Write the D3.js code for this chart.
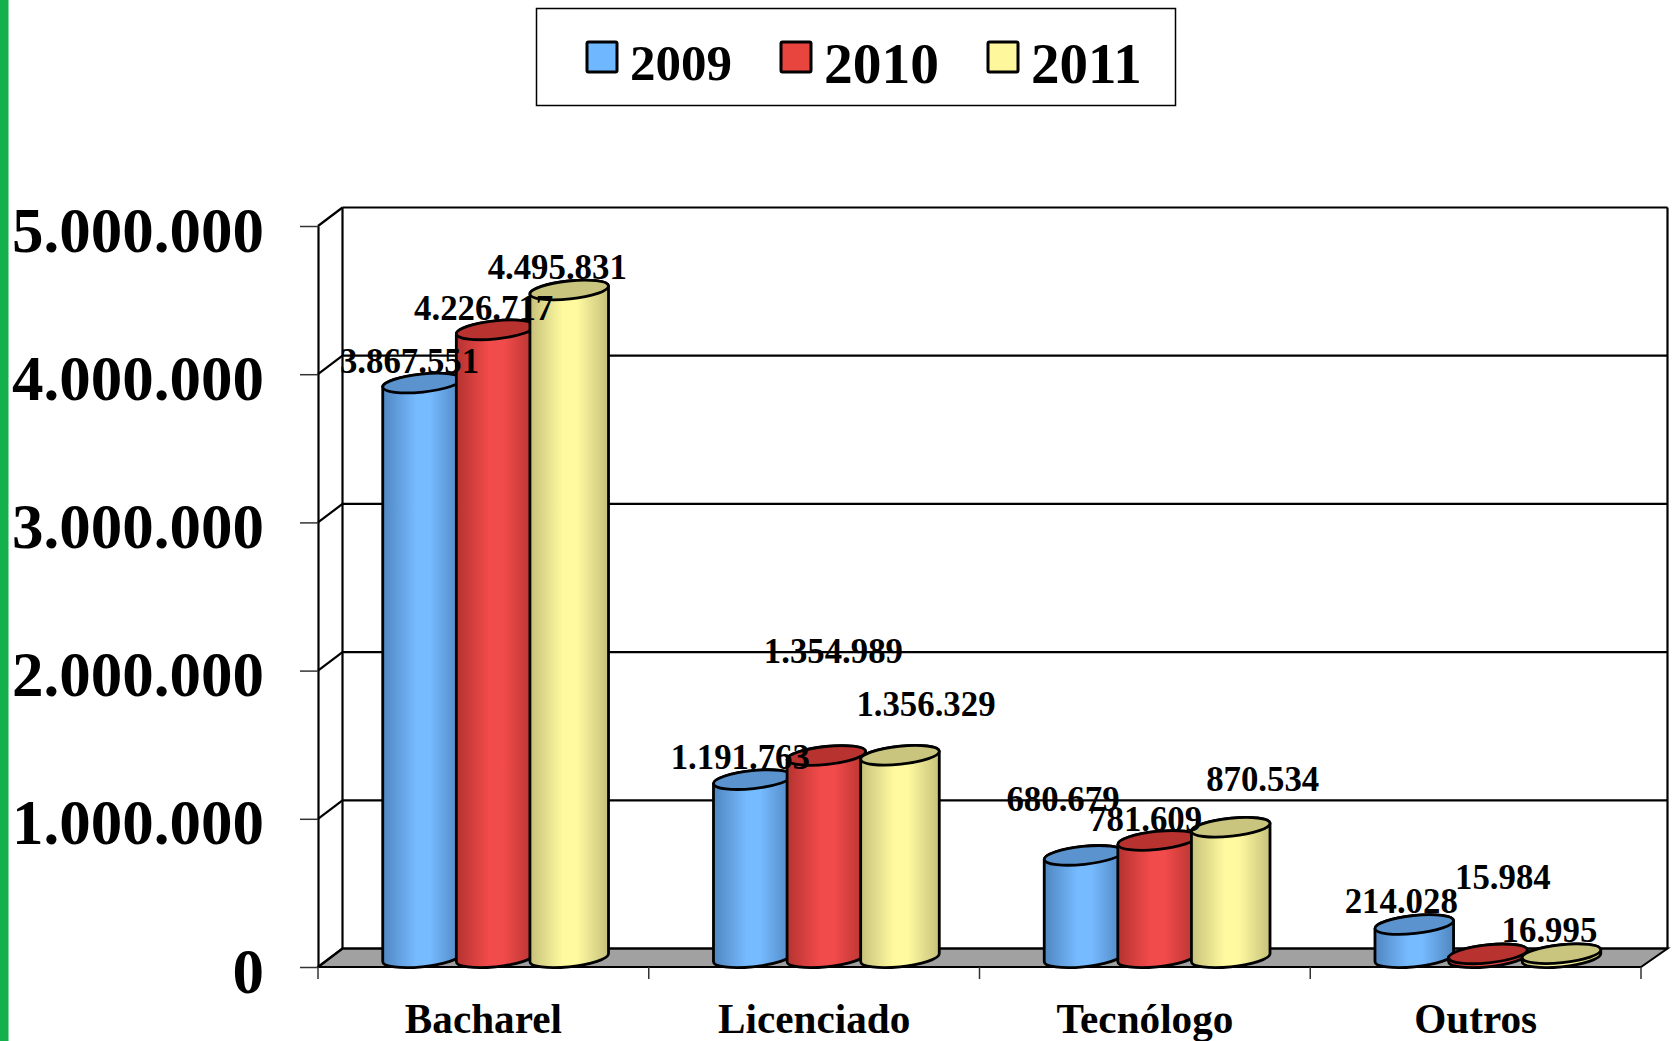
<!DOCTYPE html>
<html>
<head>
<meta charset="utf-8">
<title>Bacharel, Licenciado, Tecnólogo, Outros</title>
<script src="https://d3js.org/d3.v7.min.js"></script>
<style>
  body { margin: 0; background: #fff; }
  svg { display: block; }
  text { font-family: "Liberation Serif", serif; font-weight: bold; fill: #000; }
</style>
</head>
<body>
<div id="chart"></div>
<script>
var categories = ["Bacharel", "Licenciado", "Tecnólogo", "Outros"];
var years = ["2009", "2010", "2011"];
var values2009 = [3867551, 1191763, 680679, 214028];
var values2010 = [4226717, 1354989, 781609, 15984];
var values2011 = [4495831, 1356329, 870534, 16995];
var yTicks = [0, 1000000, 2000000, 3000000, 4000000, 5000000];

var series = [values2009, values2010, values2011];

var colors = {
  "2009": { edge: "#4f86c0", mid: "#76baff", top: "#5b93cf", key: "#6fb7ff" },
  "2010": { edge: "#b53330", mid: "#f24b4b", top: "#b83230", key: "#e8453f" },
  "2011": { edge: "#c6c17a", mid: "#fffaa0", top: "#c9c57e", key: "#fff79c" }
};

var width = 1672, height = 1041;
var svg = d3.select("#chart").append("svg").attr("width", width).attr("height", height);

var x = d3.scaleBand().domain(categories).range([318, 1641]);
var y = d3.scaleLinear().domain([0, 5000000]).range([967, 226]);
var yearPos = d3.scaleBand().domain(years).range([-110.4, 110.4]);

var fmt = d3.formatLocale({ decimal: ",", thousands: ".", grouping: [3], currency: ["", ""] }).format(",d");

// depth of the 3d box
var dx = 24.5, dy = -18.5;
var rx = 39.5, ry = 9, tilt = -6;

svg.append("rect").attr("x", 0).attr("y", 0).attr("width", 8.5).attr("height", height).attr("fill", "#12b14c");

var defs = svg.append("defs");
years.forEach(function(yr) {
  var g = defs.append("linearGradient").attr("id", "grad" + yr);
  g.append("stop").attr("offset", "0%").attr("stop-color", colors[yr].edge);
  g.append("stop").attr("offset", "42%").attr("stop-color", colors[yr].mid);
  g.append("stop").attr("offset", "60%").attr("stop-color", colors[yr].mid);
  g.append("stop").attr("offset", "100%").attr("stop-color", colors[yr].edge);
});

// floor
var x0 = x.range()[0], x1 = x.range()[1];
svg.append("path")
  .attr("d", d3.line()([[x0, y(0)], [x0 + dx, y(0) + dy], [x1 + dx + 2, y(0) + dy], [x1, y(0)]]) + "Z")
  .attr("fill", "#a1a1a1").attr("stroke", "#000").attr("stroke-width", 2);

// back wall gridlines and left wall diagonals
var box = svg.append("g").attr("stroke", "#000").attr("stroke-width", 2.2).attr("fill", "none");
box.selectAll(".grid").data(yTicks).join("line").attr("class", "grid")
  .attr("x1", x0 + dx).attr("x2", x1 + dx + 2)
  .attr("y1", function(d) { return y(d) + dy; }).attr("y2", function(d) { return y(d) + dy; });
box.selectAll(".diag").data(yTicks).join("line").attr("class", "diag")
  .attr("x1", x0).attr("x2", x0 + dx)
  .attr("y1", function(d) { return y(d); }).attr("y2", function(d) { return y(d) + dy; });
box.append("line").attr("x1", x0 + dx).attr("x2", x0 + dx).attr("y1", y(5000000) + dy).attr("y2", y(0) + dy);
box.append("line").attr("x1", x1 + dx + 2).attr("x2", x1 + dx + 2).attr("y1", y(5000000) + dy).attr("y2", y(0) + dy);

// y axis
var yAxis = svg.append("g").attr("transform", "translate(" + x0 + ",0)")
  .call(d3.axisLeft(y).tickValues(yTicks).tickFormat(fmt).tickSize(18).tickSizeOuter(0).tickPadding(36));
yAxis.select(".domain").attr("stroke", "#000").attr("stroke-width", 2.2);
yAxis.selectAll("line").attr("stroke", "#333").attr("stroke-width", 1.5);
yAxis.selectAll("text").attr("font-size", 63).attr("dy", 25).style("font-family", '"Liberation Serif", serif');

// x axis
var xAxis = svg.append("g").attr("transform", "translate(0," + y(0) + ")")
  .call(d3.axisBottom(x).tickSize(0).tickPadding(41));
xAxis.select(".domain").remove();
xAxis.selectAll("text").attr("font-size", 41.2).attr("dy", 24.5).style("font-family", '"Liberation Serif", serif');
svg.selectAll(".xtick").data(d3.range(categories.length + 1)).join("line").attr("class", "xtick")
  .attr("x1", function(i) { return x0 + i * x.step(); }).attr("x2", function(i) { return x0 + i * x.step(); })
  .attr("y1", y(0)).attr("y2", y(0) + 12)
  .attr("stroke", "#333").attr("stroke-width", 1.5);

// cylinders
var cosT = Math.cos(tilt * Math.PI / 180), sinT = Math.sin(tilt * Math.PI / 180);
var xExt = Math.sqrt(rx * rx * cosT * cosT + ry * ry * sinT * sinT);
var yExt = (rx * rx - ry * ry) * sinT * cosT / xExt;
var topLift = 1.5;

function cylinder(cx, top, base) {
  var arc = "A" + rx + " " + ry + " " + tilt + " 0 0 ";
  return "M" + (cx - xExt) + " " + (top - yExt) +
    "L" + (cx - xExt) + " " + (base - yExt) +
    arc + (cx + xExt) + " " + (base + yExt) +
    "L" + (cx + xExt) + " " + (top + yExt) +
    arc + (cx - xExt) + " " + (top - yExt) + "Z";
}
function centerX(cat, yr) {
  return x(cat) + x.bandwidth() / 2 + yearPos(yr) + yearPos.bandwidth() / 2 + dx / 2;
}

var bars = [];
categories.forEach(function(cat, c) {
  years.forEach(function(yr, s) {
    bars.push({ cat: cat, yr: yr, value: series[s][c] });
  });
});

var cyl = svg.selectAll(".cyl").data(bars).join("g").attr("class", "cyl")
  .attr("stroke", "#000").attr("stroke-width", 2.8);
cyl.append("path")
  .attr("d", function(d) { return cylinder(centerX(d.cat, d.yr), y(d.value) + dy / 2 - topLift, y(0) + dy / 2); })
  .attr("fill", function(d) { return "url(#grad" + d.yr + ")"; });
cyl.append("ellipse")
  .attr("rx", rx).attr("ry", ry)
  .attr("transform", function(d) {
    return "translate(" + centerX(d.cat, d.yr) + "," + (y(d.value) + dy / 2 - topLift) + ") rotate(" + tilt + ")";
  })
  .attr("fill", function(d) { return colors[d.yr].top; });

// hand placed labels, as in the original: dx/dy from the top of each cylinder
var labelNudge = [
  [-12.5, -21], [-12, -21], [-12, -22],
  [-12.5, -21], [7, -103], [26, -50],
  [-20.5, -55], [-11.5, -20], [32, -47],
  [-13, -22], [15, -76], [-12, -22]
];
svg.selectAll(".lab").data(bars).join("text").attr("class", "lab")
  .attr("text-anchor", "middle").attr("font-size", 34.8)
  .attr("x", function(d, i) { return centerX(d.cat, d.yr) + labelNudge[i][0]; })
  .attr("y", function(d, i) { return y(d.value) + labelNudge[i][1]; })
  .text(function(d) { return fmt(d.value); });

// legend
svg.append("rect").attr("x", 536.5).attr("y", 8.5).attr("width", 639).attr("height", 97)
  .attr("fill", "#fff").attr("stroke", "#000").attr("stroke-width", 1.5);
var legendX = [587, 781, 988];
var legendSize = [51, 57.5, 57];
var legendBase = [80, 83, 83];
var key = svg.selectAll(".key").data(years).join("g").attr("class", "key");
key.append("rect").attr("x", function(d, i) { return legendX[i]; }).attr("y", 42)
  .attr("width", 30).attr("height", 30).attr("rx", 1.5)
  .attr("fill", function(d) { return colors[d].key; }).attr("stroke", "#000").attr("stroke-width", 3);
key.append("text").attr("x", function(d, i) { return legendX[i] + 43; })
  .attr("y", function(d, i) { return legendBase[i]; })
  .attr("font-size", function(d, i) { return legendSize[i]; })
  .text(function(d) { return d; });
</script>
</body>
</html>
